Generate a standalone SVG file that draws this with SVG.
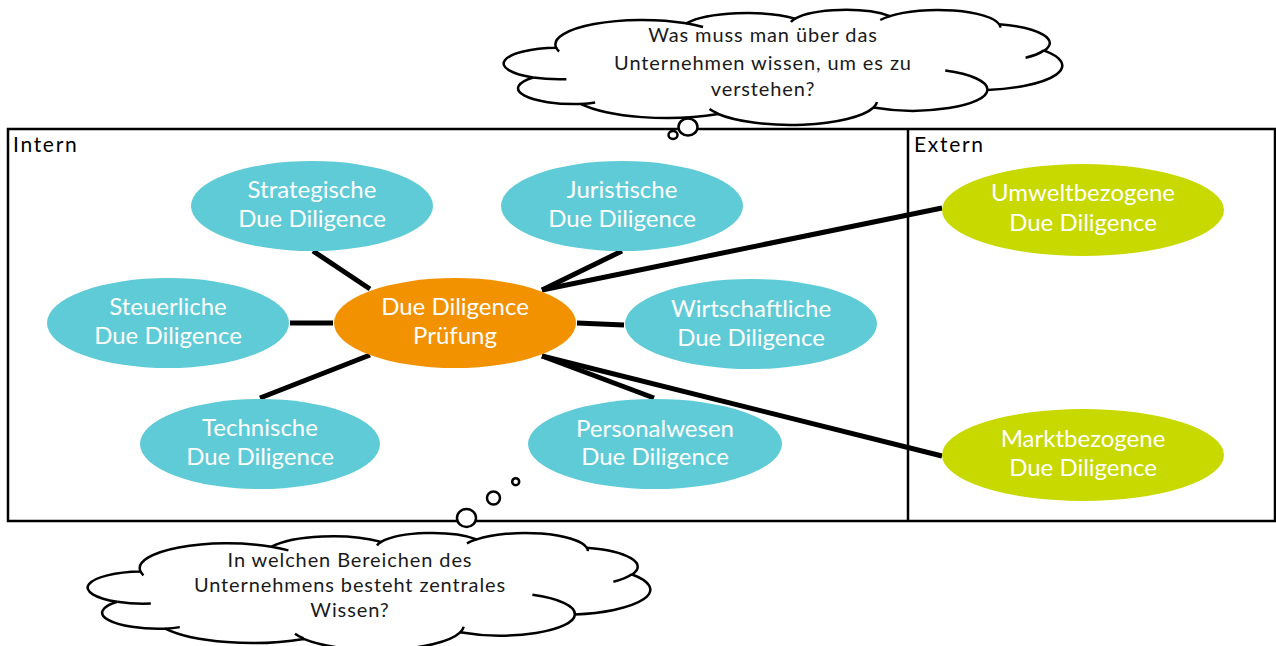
<svg xmlns="http://www.w3.org/2000/svg" width="1276" height="646" viewBox="0 0 1276 646">
<defs>
<style>
.box{fill:none;stroke:#000;stroke-width:2.5}
.conn line{stroke:#000;stroke-width:5}
.cyan{fill:#5ECBD7}
.orange{fill:#F39200}
.green{fill:#C8D900}
.nt{font-family:Lato,"Liberation Sans",sans-serif;font-size:24px;fill:#fff;text-anchor:middle}
.ct{font-family:Lato,"Liberation Sans",sans-serif;font-size:20px;letter-spacing:0.9px;fill:#1a1a1a;text-anchor:middle}
.lbl{font-family:Lato,"Liberation Sans",sans-serif;font-size:21px;letter-spacing:1.7px;fill:#000}
.cloud{fill:#fff;stroke:#000;stroke-width:2.5}
.inner{fill:none;stroke:#000;stroke-width:2.5}
.bub{fill:#fff;stroke:#000;stroke-width:2.5}
</style>
<path id="cloudMain" vector-effect="non-scaling-stroke" d="M3900 14370 A6753 9190 0 0 1 14005 5202 A5333 7267 0 0 1 22458 3432 A4365 5945 0 0 1 29836 2481 A4857 6595 0 0 1 38321 5576 A5333 7273 0 0 1 41822 15460 A6775 9220 0 0 1 37406 30200 A5785 7867 0 0 1 28558 36810 A6752 9215 0 0 1 16482 39262 A7720 10543 0 0 1 5805 35468 A4360 5918 0 0 1 2114 25547 A4345 5945 0 0 1 3900 14370 Z"/>
<path id="cloudInner" vector-effect="non-scaling-stroke" d="M4693 26177 A4345 5945 0 0 1 2114 25547 M6928 34899 A4360 5918 0 0 1 5805 35468 M16478 39090 A6752 9215 0 0 1 15811 37351 M28827 34751 A6752 9215 0 0 1 28558 36810 M34129 22954 A5785 7867 0 0 1 37406 30200 M41798 15354 A5333 7273 0 0 1 40374 18136 M38324 5426 A4857 6595 0 0 1 38398 6840 M29078 3952 A4857 6595 0 0 1 29836 2481 M22141 4720 A4365 5945 0 0 1 22458 3432 M14000 5192 A6753 9190 0 0 1 15306 6552 M4127 15789 A6753 9190 0 0 1 3900 14370"/>
</defs>

<g id="frame">
<rect class="box" x="8" y="129" width="1267" height="392"/>
<line class="box" x1="908" y1="129" x2="908" y2="521"/>
<text class="lbl" x="13" y="152">Intern</text>
<text class="lbl" x="914" y="152">Extern</text>
</g>

<g id="connectors" class="conn">
<line x1="313" y1="251" x2="370" y2="289"/>
<line x1="290" y1="323" x2="333" y2="323"/>
<line x1="260" y1="398" x2="370" y2="355"/>
<line x1="622" y1="251" x2="542" y2="290"/>
<line x1="542" y1="290" x2="942" y2="208"/>
<line x1="577" y1="323" x2="624" y2="325"/>
<line x1="542" y1="356" x2="654" y2="398"/>
<line x1="542" y1="356" x2="942" y2="456"/>
</g>

<g id="center">
<ellipse class="orange" cx="455" cy="323" rx="121" ry="45"/>
<text class="nt" x="455" y="315">Due Diligence</text>
<text class="nt" x="455" y="344">Prüfung</text>
</g>
<g id="strategische">
<ellipse class="cyan" cx="312" cy="206" rx="121" ry="45"/>
<text class="nt" x="312" y="198">Strategische</text>
<text class="nt" x="312" y="227">Due Diligence</text>
</g>
<g id="steuerliche">
<ellipse class="cyan" cx="168" cy="323" rx="121" ry="45"/>
<text class="nt" x="168" y="315">Steuerliche</text>
<text class="nt" x="168" y="344">Due Diligence</text>
</g>
<g id="technische">
<ellipse class="cyan" cx="260" cy="444" rx="120" ry="45"/>
<text class="nt" x="260" y="436">Technische</text>
<text class="nt" x="260" y="465">Due Diligence</text>
</g>
<g id="juristische">
<ellipse class="cyan" cx="622" cy="206" rx="121" ry="45"/>
<text class="nt" x="622" y="198">Juristische</text>
<text class="nt" x="622" y="227">Due Diligence</text>
</g>
<g id="wirtschaftliche">
<ellipse class="cyan" cx="751" cy="324" rx="126" ry="45"/>
<text class="nt" x="751" y="317">Wirtschaftliche</text>
<text class="nt" x="751" y="346">Due Diligence</text>
</g>
<g id="personalwesen">
<ellipse class="cyan" cx="655" cy="444" rx="127" ry="45"/>
<text class="nt" x="655" y="437">Personalwesen</text>
<text class="nt" x="655" y="465">Due Diligence</text>
</g>
<g id="umwelt">
<ellipse class="green" cx="1083" cy="210" rx="141" ry="46"/>
<text class="nt" x="1083" y="201">Umweltbezogene</text>
<text class="nt" x="1083" y="231">Due Diligence</text>
</g>
<g id="markt">
<ellipse class="green" cx="1083" cy="455" rx="141" ry="46"/>
<text class="nt" x="1083" y="447">Marktbezogene</text>
<text class="nt" x="1083" y="476">Due Diligence</text>
</g>

<g id="cloud-top">
<g transform="translate(506 9.5) scale(0.01287 0.002662)">
<use href="#cloudMain" class="cloud"/>
<use href="#cloudInner" class="inner"/>
</g>
<ellipse class="bub" cx="688" cy="127" rx="9.5" ry="8.5"/>
<ellipse class="bub" cx="673" cy="135" rx="4.5" ry="4"/>
<text class="ct" x="763" y="42">Was muss man über das</text>
<text class="ct" x="763" y="70">Unternehmen wissen, um es zu</text>
<text class="ct" x="763" y="96">verstehen?</text>
</g>

<g id="cloud-bottom">
<g transform="translate(90 532.6) scale(0.012963 0.0027083)">
<use href="#cloudMain" class="cloud"/>
<use href="#cloudInner" class="inner"/>
</g>
<ellipse class="bub" cx="466.5" cy="518" rx="9.5" ry="9"/>
<ellipse class="bub" cx="493.5" cy="498" rx="6.5" ry="6.5"/>
<ellipse class="bub" cx="515.7" cy="481.7" rx="3.5" ry="3.5"/>
<text class="ct" x="350" y="567">In welchen Bereichen des</text>
<text class="ct" x="350" y="592">Unternehmens besteht zentrales</text>
<text class="ct" x="350" y="617">Wissen?</text>
</g>
</svg>
